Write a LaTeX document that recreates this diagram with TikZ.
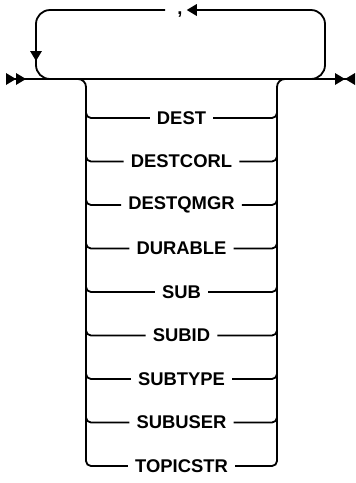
\documentclass[tikz,border=0pt]{standalone}
\usepackage{fontspec}
\setmainfont{Liberation Sans}
\usetikzlibrary{positioning,calc,arrows.meta}
\tikzset{rail/.style={line width=1.8pt}}
\tikzset{kw/.style={inner xsep=7pt,inner ysep=0pt,font=\bfseries\fontsize{18.4}{23}\selectfont}}
\tikzset{>={Triangle[length=10pt,width=11.5pt]}}

\begin{document}
\begin{tikzpicture}[x=1pt,y=-1pt]
	\useasboundingbox (0,0) rectangle (356,483);
	\coordinate (start) at (6,79);
	\coordinate (stop) at (355,79);
	\coordinate (bl) at (78,79);
	\coordinate (br) at (285,79);
	\coordinate (lt) at (86,90);
	\coordinate (lb) at (86,458);
	\coordinate (rt) at (277,90);
	\coordinate (rb) at (277,458);
	% repeat loop
	\coordinate (ll) at (52,79);
	\coordinate (lc) at (36,79);
	\coordinate (rr) at (310,79);
	\coordinate (rc) at (325,10);
	\coordinate (au) at (36,40);
	\coordinate (ad) at (36,61);

	\node[kw,inner xsep=4pt] (comma) at (176,10) {\hspace*{8pt}\strut,};
	\node[kw] (dest) at (181.5,118) {DEST};
	\node[kw] (destcorl) at (181.5,161.5) {DESTCORL};
	\node[kw] (destqmgr) at (181.5,205) {DESTQMGR};
	\node[kw] (durable) at (181.5,248.5) {DURABLE};
	\node[kw] (sub) at (181.5,292) {SUB};
	\node[kw] (subid) at (181.5,335.5) {SUBID};
	\node[kw] (subtype) at (181.5,379) {SUBTYPE};
	\node[kw] (subuser) at (181.5,422.5) {SUBUSER};
	\node[kw] (topicstr) at (181.5,466) {TOPICSTR};

	\draw[rail,{>>}-{>>[reversed]}] (start) -- (stop);

	\draw[rail,rounded corners=8] (bl) -| (lb);
	\draw[rail,rounded corners=8] (rb) |- (br);
	\foreach \n in {dest,destcorl,destqmgr,durable,sub,subid,subtype,subuser,topicstr}
	{
		\draw[rail,rounded corners=5] (lt) |- (\n.west);
		\draw[rail,rounded corners=5] (\n.east) -| (rt);
	}

	\draw[rail,rounded corners=14,->] (rr) -| (rc) -- (comma.east);
	\draw[rail,rounded corners=14] (comma.west) -| (lc) -- (ll);
	\draw[rail,->] (au) -- (ad);
\end{tikzpicture}
\end{document}
